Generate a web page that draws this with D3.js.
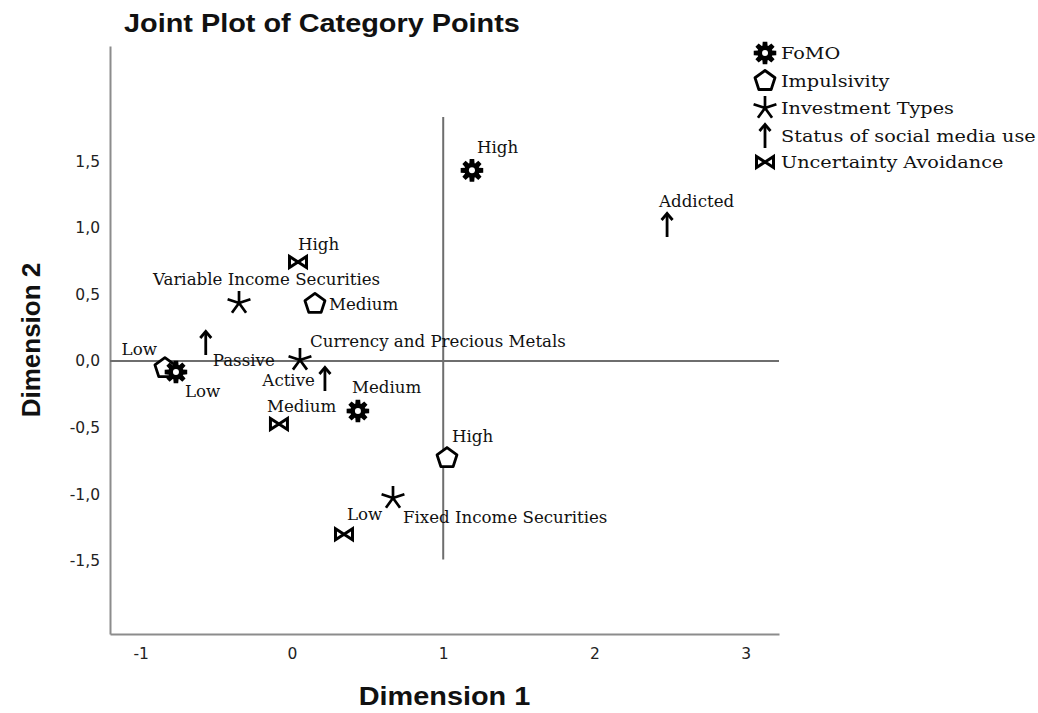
<!DOCTYPE html>
<html>
<head>
<meta charset="utf-8">
<script src="https://cdn.jsdelivr.net/npm/d3@7"></script>
<style>
  html, body { margin: 0; padding: 0; background: #fff; }
  svg { display: block; }
</style>
</head>
<body>
<svg id="chart" width="1038" height="713"></svg>
<script>
// ---- Category point coordinates (Dimension 1, Dimension 2) ----
const groupNames = ["FoMO", "Impulsivity", "Investment Types", "Status of social media use", "Uncertainty Avoidance"];

const fomoLabels = ["High", "Medium", "Low"];
const fomoDim1 = [1.19, 0.436, -0.767];
const fomoDim2 = [1.43, -0.375, -0.083];

const impulsivityLabels = ["Low", "Medium", "High"];
const impulsivityDim1 = [-0.84, 0.152, 1.025];
const impulsivityDim2 = [-0.053, 0.428, -0.728];

const investmentLabels = ["Variable Income Securities", "Currency and Precious Metals", "Fixed Income Securities"];
const investmentDim1 = [-0.35, 0.053, 0.668];
const investmentDim2 = [0.435, 0.008, -1.028];

const socialMediaLabels = ["Addicted", "Passive", "Active"];
const socialMediaDim1 = [2.48, -0.57, 0.218];
const socialMediaDim2 = [1.02, 0.135, -0.135];

const uncertaintyLabels = ["High", "Medium", "Low"];
const uncertaintyDim1 = [0.04, -0.086, 0.344];
const uncertaintyDim2 = [0.743, -0.473, -1.30];

// tick values
const xTicks = [-1, 0, 1, 2, 3];
const yTicks = [-1.5, -1.0, -0.5, 0.0, 0.5, 1.0, 1.5];

// reference lines: horizontal at Dimension 2 = 0, vertical at Dimension 1 = 1
const refVerticalX = 1;
const refVerticalSpan = [-1.49, 1.83];
const refHorizontalY = 0;

// label placement per point: [anchor, dx, dy]
const fomoLabelPos = [["start", 5, -17], ["start", -6, -18], ["start", 9, 25]];
const impulsivityLabelPos = [["end", -8, -13], ["start", 14, 6], ["start", 5, -16]];
const investmentLabelPos = [["start", -86, -18], ["start", 10, -13], ["start", 10, 25]];
const socialMediaLabelPos = [["start", -8, -18], ["start", 7, 23], ["end", -10, 7]];
const uncertaintyLabelPos = [["start", 0, -12], ["start", -12, -12], ["start", 3, -14]];

// ---- Layout ----
const svg = d3.select("#chart");
const plotLeft = 110, plotRight = 779, plotTop = 46, plotBottom = 634;
const wide = 1.11; // horizontal stretch applied to horizontal text

const x = d3.scaleLinear().domain([-1.203, 3.22]).range([plotLeft, plotRight]);
const y = d3.scaleLinear().domain([-2.048, 2.363]).range([plotBottom, plotTop]);

const commaLocale = d3.formatLocale({ decimal: ",", thousands: ".", grouping: [3], currency: ["", ""], minus: "-" });
const fmtY = commaLocale.format(".1f");
const fmtX = commaLocale.format("d");

const axisColor = "#8c8c8c";
const labelFont = "'DejaVu Serif', serif";
const sansBold = "'Liberation Sans', Arial, sans-serif";

// horizontal text with a slight horizontal stretch
function stretchedText(parent, px, py, sx, str) {
  return parent.append("text")
    .attr("transform", `translate(${px},${py}) scale(${sx},1)`)
    .text(str);
}

// Title
stretchedText(svg, 124, 32, wide, "Joint Plot of Category Points")
  .attr("font-family", sansBold)
  .attr("font-weight", "bold")
  .attr("font-size", 26)
  .attr("fill", "#111");

// Axes
const xAxis = svg.append("g")
  .attr("transform", `translate(0,${plotBottom})`)
  .call(d3.axisBottom(x).tickValues(xTicks).tickSize(0).tickPadding(14).tickFormat(fmtX));
const yAxis = svg.append("g")
  .attr("transform", `translate(${plotLeft},0)`)
  .call(d3.axisLeft(y).tickValues(yTicks).tickSize(0).tickPadding(10).tickFormat(fmtY));

[xAxis, yAxis].forEach(g => {
  g.select(".domain").attr("stroke", axisColor).attr("stroke-width", 2);
  g.selectAll("text")
    .attr("font-family", "'DejaVu Sans', sans-serif")
    .attr("font-size", 15.5)
    .attr("fill", "#222");
});

// Axis titles
stretchedText(svg, (plotLeft + plotRight) / 2 + 0, 705, wide, "Dimension 1")
  .attr("text-anchor", "middle")
  .attr("font-family", sansBold)
  .attr("font-weight", "bold").attr("font-size", 26)
  .attr("fill", "#111");
svg.append("text")
  .attr("transform", `translate(40,${(plotTop + plotBottom) / 2}) rotate(-90)`)
  .attr("text-anchor", "middle")
  .attr("font-family", sansBold)
  .attr("font-weight", "bold").attr("font-size", 26)
  .attr("fill", "#111")
  .text("Dimension 2");

// Reference lines
svg.append("line")
  .attr("x1", x.range()[0]).attr("x2", x.range()[1])
  .attr("y1", y(refHorizontalY)).attr("y2", y(refHorizontalY))
  .attr("stroke", "#6e6e6e").attr("stroke-width", 2);
svg.append("line")
  .attr("x1", x(refVerticalX)).attr("x2", x(refVerticalX))
  .attr("y1", y(refVerticalSpan[0])).attr("y2", y(refVerticalSpan[1]))
  .attr("stroke", "#6e6e6e").attr("stroke-width", 2);

// ---- Marker symbols ----
function gearPath(R) {
  const inner = R * 0.66, pts = [];
  for (let i = 0; i < 8; i++) {
    const a = i * Math.PI / 4;
    const d1 = 0.30, d2 = 0.20;
    pts.push([inner * Math.cos(a - d1 - 0.05), inner * Math.sin(a - d1 - 0.05)]);
    pts.push([R * Math.cos(a - d2), R * Math.sin(a - d2)]);
    pts.push([R * Math.cos(a + d2), R * Math.sin(a + d2)]);
    pts.push([inner * Math.cos(a + d1 + 0.05), inner * Math.sin(a + d1 + 0.05)]);
  }
  return "M" + pts.map(p => p.join(",")).join("L") + "Z";
}
function pentagonPath(R) {
  const pts = d3.range(5).map(i => {
    const a = -Math.PI / 2 + i * 2 * Math.PI / 5;
    return [R * Math.cos(a), R * Math.sin(a)];
  });
  return "M" + pts.map(p => p.join(",")).join("L") + "Z";
}
function asteriskPath(R) {
  return d3.range(5).map(i => {
    const a = -Math.PI / 2 + i * 2 * Math.PI / 5;
    return `M0,0L${R * Math.cos(a)},${R * Math.sin(a)}`;
  }).join("");
}

const markerDrawers = {
  "FoMO": g => {
    g.append("path").attr("d", gearPath(11.5)).attr("fill", "#000");
    g.append("circle").attr("r", 3).attr("fill", "#fff");
  },
  "Impulsivity": g => {
    g.append("path").attr("d", pentagonPath(10.5)).attr("fill", "#fff")
      .attr("stroke", "#000").attr("stroke-width", 2.8).attr("stroke-linejoin", "round");
  },
  "Investment Types": g => {
    g.append("path").attr("d", asteriskPath(12)).attr("fill", "none")
      .attr("stroke", "#000").attr("stroke-width", 2.7);
  },
  "Status of social media use": g => {
    g.append("path").attr("d", "M0,12L0,-11").attr("stroke", "#000").attr("stroke-width", 2.8);
    g.append("path").attr("d", "M-5.5,-5L0,-11.5L5.5,-5").attr("fill", "none")
      .attr("stroke", "#000").attr("stroke-width", 2.8).attr("stroke-linejoin", "miter");
  },
  "Uncertainty Avoidance": g => {
    g.append("path").attr("d", "M-8.5,-5.5L-8.5,5.5L8.5,-5.5L8.5,5.5Z").attr("fill", "#fff")
      .attr("stroke", "#000").attr("stroke-width", 3).attr("stroke-linejoin", "miter");
  }
};

// ---- Points ----
const series = [
  { name: "Impulsivity", labels: impulsivityLabels, d1: impulsivityDim1, d2: impulsivityDim2, pos: impulsivityLabelPos },
  { name: "FoMO", labels: fomoLabels, d1: fomoDim1, d2: fomoDim2, pos: fomoLabelPos },
  { name: "Investment Types", labels: investmentLabels, d1: investmentDim1, d2: investmentDim2, pos: investmentLabelPos },
  { name: "Status of social media use", labels: socialMediaLabels, d1: socialMediaDim1, d2: socialMediaDim2, pos: socialMediaLabelPos },
  { name: "Uncertainty Avoidance", labels: uncertaintyLabels, d1: uncertaintyDim1, d2: uncertaintyDim2, pos: uncertaintyLabelPos }
];

const pointLayer = svg.append("g");
const labelLayer = svg.append("g");
series.forEach(s => {
  s.labels.forEach((lab, i) => {
    const px = x(s.d1[i]), py = y(s.d2[i]);
    const g = pointLayer.append("g").attr("transform", `translate(${px},${py})`);
    markerDrawers[s.name](g);
    const [anchor, dx, dy] = s.pos[i];
    stretchedText(labelLayer, px + dx, py + dy, 1.04, lab)
      .attr("text-anchor", anchor)
      .attr("font-family", labelFont).attr("font-size", 16)
      .attr("fill", "#111");
  });
});

// ---- Legend ----
const legend = svg.append("g").attr("transform", "translate(765,0)");
const legendRows = [53, 81, 108, 136, 162];
groupNames.forEach((name, i) => {
  const g = legend.append("g").attr("transform", `translate(0,${legendRows[i]})`);
  markerDrawers[name](g);
  stretchedText(g, 16, 6, 1.1, name)
    .attr("font-family", labelFont).attr("font-size", 17.5)
    .attr("fill", "#111");
});
</script>
</body>
</html>
